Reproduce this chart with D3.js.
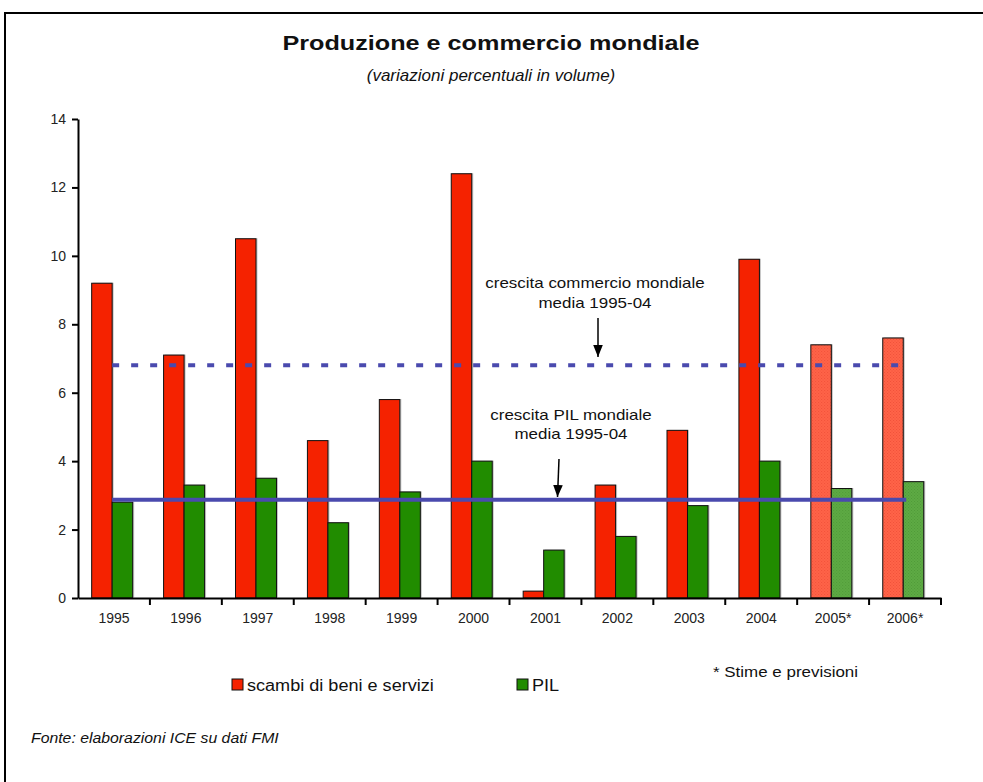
<!DOCTYPE html>
<html lang="it">
<head>
<meta charset="UTF-8">
<title>Produzione e commercio mondiale</title>
<script src="https://d3js.org/d3.v7.min.js"></script>
<style>
    body { margin: 0; background: white; }
    svg { font-family: "Liberation Sans", Arial, sans-serif; }
    .axis path, .axis line { stroke: black; stroke-width: 2px; }
    .axis text { font-family: "Liberation Sans", Arial, sans-serif; font-size: 14px; fill: #222; }
</style>
</head>
<body>
<svg id="chart" width="983" height="782"></svg>
<script>
    const width = 983;
    const height = 782;

    const years = ["1995", "1996", "1997", "1998", "1999", "2000", "2001", "2002", "2003", "2004", "2005*", "2006*"];
    const scambi = [9.2, 7.1, 10.5, 4.6, 5.8, 12.4, 0.2, 3.3, 4.9, 9.9, 7.4, 7.6];
    const pil = [2.8, 3.3, 3.5, 2.2, 3.1, 4.0, 1.4, 1.8, 2.7, 4.0, 3.2, 3.4];
    const forecast = ["2005*", "2006*"];
    const yTicks = [0, 2, 4, 6, 8, 10, 12, 14];
    const mediaCommercio = 6.8;
    const mediaPil = 2.87;

    const svg = d3.select("#chart");

    // text helper: the source picture is a bit stretched sideways
    function label(parent, px, py, str, size, opts = {}) {
      const t = parent.append("g")
        .attr("transform", `translate(${px},${py}) scale(${opts.sx || 1.13},1)`)
        .append("text")
        .attr("font-size", size)
        .attr("fill", "#111")
        .attr("text-anchor", opts.anchor || "start")
        .text(str);
      if (opts.bold) t.attr("font-weight", "bold");
      if (opts.italic) t.attr("font-style", "italic");
      return t;
    }

    // frame (only top and left edges are visible in the picture)
    svg.append("rect")
      .attr("x", 5).attr("y", 13)
      .attr("width", 1000).attr("height", 800)
      .attr("fill", "none").attr("stroke", "black").attr("stroke-width", 2);

    // textured fills for the forecast years
    const defs = svg.append("defs");
    function texture(id, base, dot) {
      const p = defs.append("pattern")
        .attr("id", id).attr("patternUnits", "userSpaceOnUse")
        .attr("width", 3).attr("height", 3);
      p.append("rect").attr("width", 3).attr("height", 3).attr("fill", base);
      p.append("rect").attr("width", 1).attr("height", 1).attr("fill", dot);
      p.append("rect").attr("x", 1.5).attr("y", 1.5).attr("width", 1).attr("height", 1).attr("fill", dot);
    }
    texture("redTex", "#ff6448", "#f0503a");
    texture("greenTex", "#5eaa44", "#4f9a38");

    const x = d3.scaleBand().domain(years).range([78, 941]);
    const x1 = d3.scaleBand().domain(["scambi", "pil"])
      .range([x.bandwidth() * 0.19, x.bandwidth() * 0.76]);
    const y = d3.scaleLinear().domain([0, 14]).range([598, 119]);

    const colors = { scambi: "#f52200", pil: "#218c00" };
    const texFill = { scambi: "url(#redTex)", pil: "url(#greenTex)" };

    const rows = years.map((yr, i) => ({ year: yr, scambi: scambi[i], pil: pil[i] }));

    const groups = svg.append("g").selectAll("g")
      .data(rows).enter().append("g")
      .attr("transform", d => `translate(${x(d.year)},0)`);

    ["scambi", "pil"].forEach(key => {
      // soft shadow
      groups.append("rect")
        .attr("x", x1(key) + 1.5)
        .attr("y", d => y(d[key]) - 0.5)
        .attr("width", x1.bandwidth())
        .attr("height", d => y(0) - y(d[key]))
        .attr("fill", "#999").attr("opacity", 0.6);
      groups.append("rect")
        .attr("x", x1(key))
        .attr("y", d => y(d[key]))
        .attr("width", x1.bandwidth())
        .attr("height", d => y(0) - y(d[key]))
        .attr("fill", d => forecast.includes(d.year) ? texFill[key] : colors[key])
        .attr("stroke", "#111").attr("stroke-width", 1);
    });

    // y axis
    svg.append("g")
      .attr("class", "axis")
      .attr("transform", "translate(78,0)")
      .call(d3.axisLeft(y).tickValues(yTicks).tickSize(6).tickSizeOuter(0).tickPadding(6));

    // x axis: labels under bands, ticks between bands
    const xAxis = svg.append("g")
      .attr("class", "axis")
      .attr("transform", "translate(0,598)")
      .call(d3.axisBottom(x).tickSize(0).tickSizeOuter(0).tickPadding(15));
    xAxis.selectAll(".tick")
      .append("line")
      .attr("x1", x.bandwidth() / 2).attr("x2", x.bandwidth() / 2)
      .attr("y1", 0).attr("y2", 7)
      .attr("stroke", "black").attr("stroke-width", 2);

    // average lines
    const lx0 = x(years[0]) + x1("pil");
    const lx1 = x(years[years.length - 1]) + x1("pil") + 3;
    svg.append("line")
      .attr("x1", lx0).attr("x2", lx1 - 8)
      .attr("y1", y(mediaCommercio)).attr("y2", y(mediaCommercio))
      .attr("stroke", "#4a4aae").attr("stroke-width", 4)
      .attr("stroke-dasharray", "7,12");
    svg.append("line")
      .attr("x1", lx0).attr("x2", lx1)
      .attr("y1", y(mediaPil)).attr("y2", y(mediaPil))
      .attr("stroke", "#4a4aae").attr("stroke-width", 4);

    // annotations
    defs.append("marker")
      .attr("id", "arrow").attr("viewBox", "0 0 10 10")
      .attr("refX", 10).attr("refY", 5)
      .attr("markerWidth", 8).attr("markerHeight", 8)
      .attr("orient", "auto")
      .append("path").attr("d", "M0,1 L10,5 L0,9 Z").attr("fill", "black");

    const note = svg.append("g");
    label(note, 595, 288, "crescita commercio mondiale", 15, { anchor: "middle" });
    label(note, 595, 308, "media 1995-04", 15, { anchor: "middle" });
    label(note, 571, 420, "crescita PIL mondiale", 15, { anchor: "middle" });
    label(note, 571, 439, "media 1995-04", 15, { anchor: "middle" });

    svg.append("line")
      .attr("x1", 598).attr("y1", 318).attr("x2", 598).attr("y2", 357)
      .attr("stroke", "black").attr("stroke-width", 1.5).attr("marker-end", "url(#arrow)");
    svg.append("line")
      .attr("x1", 559).attr("y1", 459).attr("x2", 557.5).attr("y2", 497)
      .attr("stroke", "black").attr("stroke-width", 1.5).attr("marker-end", "url(#arrow)");

    // titles
    label(svg, 491, 50, "Produzione e commercio mondiale", 21, { anchor: "middle", bold: true, sx: 1.2 });
    label(svg, 491, 81, "(variazioni percentuali in volume)", 17, { anchor: "middle", italic: true, sx: 1 });

    // legend
    const legend = [
      { label: "scambi di beni e servizi", color: colors.scambi, x: 232 },
      { label: "PIL", color: colors.pil, x: 517 }
    ];
    legend.forEach(d => {
      svg.append("rect")
        .attr("x", d.x).attr("y", 679)
        .attr("width", 11).attr("height", 11)
        .attr("fill", d.color).attr("stroke", "#111").attr("stroke-width", 1);
      label(svg, d.x + 15, 690.5, d.label, 16);
    });

    label(svg, 713, 677, "* Stime e previsioni", 15);
    label(svg, 31, 743, "Fonte: elaborazioni ICE su dati FMI", 14, { italic: true });
</script>
</body>
</html>
